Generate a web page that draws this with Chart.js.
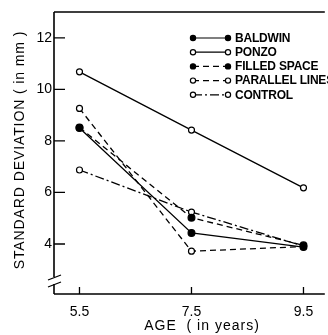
<!DOCTYPE html>
<html>
<head>
<meta charset="utf-8">
<script src="https://cdn.jsdelivr.net/npm/chart.js@4.4.1/dist/chart.umd.min.js"></script>
<style>
  html, body { margin: 0; padding: 0; background: #fff; }
  #wrap { width: 328px; height: 335px; }
</style>
</head>
<body>
<div id="wrap"><canvas id="chart"></canvas></div>
<script>
// ==================== DADOS ====================
const ages = [5.5, 7.5, 9.5];
const yTicks = [4, 6, 8, 10, 12];

const baldwin = [8.5, 4.43, 3.88];
const ponzo = [10.68, 8.42, 6.18];
const filledSpace = [8.52, 5.02, 3.95];
const parallelLines = [9.26, 3.72, 3.9];
const control = [6.87, 5.24, 3.92];

const seriesNames = ['BALDWIN', 'PONZO', 'FILLED SPACE', 'PARALLEL LINES', 'CONTROL'];

// ==================== ESTILOS ====================
const FONT = 'Liberation Sans';
const solid = [];
const dashed = [6, 4];
const dashDot = [9, 3, 2, 3];

function pontos(valores) {
    return ages.map((a, i) => ({ x: a, y: valores[i] }));
}

function serie(nome, valores, cheio, dash) {
    return {
        label: nome,
        data: pontos(valores),
        borderColor: '#000',
        borderWidth: 1.3,
        borderDash: dash,
        pointRadius: cheio ? 3.4 : 3,
        pointBorderWidth: 1.2,
        pointBorderColor: '#000',
        pointBackgroundColor: cheio ? '#000' : '#fff',
        fill: false,
        tension: 0
    };
}

const estilos = [
    { cheio: true, dash: solid },
    { cheio: false, dash: solid },
    { cheio: true, dash: dashed },
    { cheio: false, dash: dashed },
    { cheio: false, dash: dashDot }
];

const datasets = [baldwin, ponzo, filledSpace, parallelLines, control]
    .map((v, i) => serie(seriesNames[i], v, estilos[i].cheio, estilos[i].dash));

// ==================== MOLDURA, LEGENDA, TÍTULOS ====================
const molduraPlugin = {
    id: 'moldura',
    afterDraw(chart) {
        const ctx = chart.ctx;
        const { left, top, right, bottom } = chart.chartArea;
        const xs = chart.scales.x;
        const ys = chart.scales.y;

        ctx.save();
        ctx.strokeStyle = '#000';
        ctx.fillStyle = '#000';
        ctx.lineWidth = 1.6;
        ctx.setLineDash([]);

        // eixo esquerdo com quebra
        const quebraA = bottom - 17;
        const quebraB = bottom - 10;
        ctx.beginPath();
        ctx.moveTo(left, top);
        ctx.lineTo(left, quebraA);
        ctx.moveTo(left, quebraB);
        ctx.lineTo(left, bottom);
        // topo e base
        ctx.moveTo(left, top);
        ctx.lineTo(right + 2, top);
        ctx.moveTo(left, bottom);
        ctx.lineTo(right + 2, bottom);
        ctx.stroke();

        // marcas da quebra
        ctx.lineWidth = 1.3;
        ctx.beginPath();
        ctx.moveTo(left - 6, quebraA + 3);
        ctx.lineTo(left + 7, quebraA - 2);
        ctx.moveTo(left - 6, quebraB + 3);
        ctx.lineTo(left + 7, quebraB - 2);
        ctx.stroke();

        // ticks internos
        ctx.lineWidth = 1.3;
        ctx.beginPath();
        yTicks.forEach(v => {
            const p = ys.getPixelForValue(v);
            ctx.moveTo(left, p);
            ctx.lineTo(left + 11, p);
        });
        ages.forEach(v => {
            const p = xs.getPixelForValue(v);
            ctx.moveTo(p, bottom);
            ctx.lineTo(p, bottom - 7);
        });
        ctx.stroke();

        // legenda
        const lx0 = 193, lx1 = 228, ly0 = 38, passo = 14.2;
        ctx.font = 'bold 12px "' + FONT + '"';
        ctx.letterSpacing = '-0.2px';
        ctx.textBaseline = 'middle';
        ctx.textAlign = 'left';
        datasets.forEach((ds, i) => {
            const y = ly0 + i * passo;
            ctx.lineWidth = 1.2;
            ctx.setLineDash(ds.borderDash);
            ctx.beginPath();
            ctx.moveTo(lx0, y);
            ctx.lineTo(lx1, y);
            ctx.stroke();
            ctx.setLineDash([]);
            [lx0, lx1].forEach(x => {
                ctx.beginPath();
                ctx.arc(x, y, 2.6, 0, Math.PI * 2);
                ctx.fillStyle = ds.pointBackgroundColor;
                ctx.fill();
                ctx.stroke();
            });
            ctx.fillStyle = '#000';
            ctx.fillText(ds.label, 235, y + 0.5);
        });

        // títulos dos eixos
        ctx.font = '14px "' + FONT + '"';
        ctx.letterSpacing = '1px';
        ctx.textAlign = 'center';
        ctx.textBaseline = 'middle';
        ctx.fillText('AGE  ( in years)', 202, 326);

        ctx.translate(20, 150);
        ctx.rotate(-Math.PI / 2);
        ctx.letterSpacing = '0.9px';
        ctx.fillText('STANDARD DEVIATION ( in mm )', 0, 0);
        ctx.restore();
    }
};

// ==================== GRÁFICO ====================
new Chart(document.getElementById('chart'), {
    type: 'line',
    data: { datasets },
    options: {
        responsive: true,
        maintainAspectRatio: false,
        animation: false,
        layout: { padding: { top: 12, right: 0, left: 0, bottom: 0 } },
        plugins: {
            legend: { display: false },
            tooltip: { enabled: false }
        },
        scales: {
            x: {
                type: 'linear',
                min: 5.045,
                max: 9.845,
                afterBuildTicks: s => { s.ticks = ages.map(v => ({ value: v })); },
                afterFit: s => { s.height = 41; },
                grid: { display: false, drawTicks: false },
                border: { display: false },
                ticks: {
                    color: '#000',
                    font: { family: FONT, size: 14 },
                    padding: 10,
                    callback: v => v.toFixed(1)
                }
            },
            y: {
                type: 'linear',
                min: 2.06,
                max: 13,
                afterBuildTicks: s => { s.ticks = yTicks.map(v => ({ value: v })); },
                afterFit: s => { s.width = 54; },
                grid: { display: false, drawTicks: false },
                border: { display: false },
                ticks: {
                    color: '#000',
                    font: { family: FONT, size: 14 },
                    padding: 2
                }
            }
        }
    },
    plugins: [molduraPlugin]
});
</script>
</body>
</html>
